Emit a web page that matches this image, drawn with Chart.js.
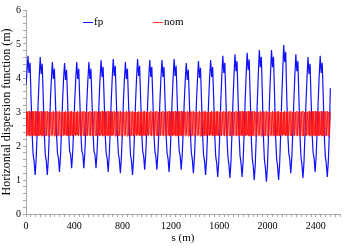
<!doctype html>
<html>
<head>
    <title>Horizontal dispersion function</title>
    <script src="https://cdn.jsdelivr.net/npm/chart.js"></script>
    <style>
        body { margin: 0; background: #fff; }
        #box { width: 353px; height: 250px; }
    </style>
</head>
<body>
    <div id="box"><canvas id="disp"></canvas></div>

    <script>
        // Perturbed dispersion (fp), one row per lattice cell, sampled every 8.4 m
        var fpStep = 8.4;
        var fpCells = [
            [3.8, 4.2, 4.65, 4.15, 4.45, 3.4, 2.4, 1.75, 1.55, 1.15, 1.6, 2.4],
            [3.3, 4.0, 4.62, 4.12, 4.42, 3.4, 2.4, 1.75, 1.55, 1.15, 1.6, 2.4],
            [3.3, 3.95, 4.47, 3.97, 4.27, 3.35, 2.4, 1.8, 1.64, 1.24, 1.69, 2.45],
            [3.3, 3.95, 4.44, 3.94, 4.24, 3.35, 2.45, 1.85, 1.75, 1.35, 1.8, 2.5],
            [3.3, 3.95, 4.47, 3.97, 4.27, 3.35, 2.45, 1.85, 1.75, 1.35, 1.8, 2.5],
            [3.3, 3.95, 4.47, 3.97, 4.27, 3.35, 2.45, 1.85, 1.75, 1.35, 1.8, 2.5],
            [3.3, 4.0, 4.53, 4.03, 4.33, 3.4, 2.4, 1.8, 1.64, 1.24, 1.69, 2.45],
            [3.3, 4.0, 4.56, 4.06, 4.36, 3.4, 2.4, 1.8, 1.6, 1.2, 1.65, 2.4],
            [3.3, 3.95, 4.47, 3.97, 4.27, 3.35, 2.4, 1.75, 1.55, 1.15, 1.6, 2.4],
            [3.3, 4.0, 4.56, 4.06, 4.36, 3.4, 2.45, 1.85, 1.7, 1.3, 1.75, 2.45],
            [3.3, 4.0, 4.53, 4.03, 4.33, 3.4, 2.45, 1.85, 1.7, 1.3, 1.75, 2.45],
            [3.3, 4.0, 4.53, 4.03, 4.33, 3.4, 2.4, 1.8, 1.64, 1.24, 1.69, 2.45],
            [3.3, 4.0, 4.56, 4.06, 4.36, 3.4, 2.45, 1.85, 1.7, 1.3, 1.75, 2.45],
            [3.3, 3.95, 4.44, 3.94, 4.24, 3.35, 2.4, 1.8, 1.6, 1.2, 1.65, 2.4],
            [3.3, 3.95, 4.5, 4.0, 4.3, 3.35, 2.4, 1.75, 1.55, 1.15, 1.6, 2.4],
            [3.3, 4.0, 4.53, 4.03, 4.33, 3.4, 2.35, 1.7, 1.49, 1.09, 1.54, 2.35],
            [3.3, 4.05, 4.65, 4.15, 4.45, 3.45, 2.35, 1.7, 1.46, 1.06, 1.51, 2.35],
            [3.3, 4.05, 4.7, 4.2, 4.5, 3.45, 2.35, 1.7, 1.49, 1.09, 1.54, 2.35],
            [3.3, 4.1, 4.74, 4.24, 4.54, 3.45, 2.3, 1.65, 1.4, 1.0, 1.45, 2.3],
            [3.3, 4.1, 4.82, 4.32, 4.62, 3.5, 2.3, 1.6, 1.35, 0.95, 1.4, 2.3],
            [3.3, 4.1, 4.82, 4.32, 4.62, 3.5, 2.3, 1.65, 1.4, 1.0, 1.45, 2.3],
            [3.3, 4.15, 4.97, 4.47, 4.77, 3.5, 2.4, 1.8, 1.6, 1.2, 1.65, 2.4],
            [3.3, 4.05, 4.7, 4.2, 4.5, 3.45, 2.35, 1.7, 1.46, 1.06, 1.51, 2.35],
            [3.3, 4.0, 4.62, 4.12, 4.42, 3.4, 2.4, 1.8, 1.64, 1.24, 1.69, 2.45],
            [3.3, 4.05, 4.65, 4.15, 4.45, 3.45, 2.35, 1.7, 1.49, 1.09, 1.54, 2.35],
            [3.7]
        ];

        // Nominal dispersion (nom): the lattice is periodic, one cell sampled every 6.3 m
        var nomStep = 6.3;
        var nomCell = [3.02, 2.3, 3.0, 2.32, 3.03, 2.29, 3.0, 2.31, 3.02, 2.3, 3.01, 2.31, 3.03, 2.29, 3.0, 2.32];
        var nomCellCount = 25;
        var nomEnd = [3.02];

        var xTickMajor = 400;
        var yTickMajor = 1;

        var fpData = [];
        fpCells.forEach(function (row) {
            row.forEach(function (v) {
                fpData.push({ x: fpData.length * fpStep, y: v });
            });
        });

        var nomValues = [];
        for (var c = 0; c < nomCellCount; c++) nomValues = nomValues.concat(nomCell);
        nomValues = nomValues.concat(nomEnd);
        var nomData = nomValues.map(function (v, i) { return { x: i * nomStep, y: v }; });

        var fonte = { family: 'Liberation Serif', size: 10 };
        var fonteTitulo = { family: 'Liberation Serif', size: 12 };
        var cinza = '#a8a8a8';

        // legend drawn inside the plot area, like the original
        var legendaInterna = {
            id: 'legendaInterna',
            afterDraw: function (chart) {
                var ctx = chart.ctx;
                var area = chart.chartArea;
                var offsets = [57, 127];
                ctx.save();
                ctx.font = '11px "Liberation Serif"';
                ctx.textBaseline = 'middle';
                chart.data.datasets.forEach(function (ds, i) {
                    var x = area.left + offsets[i];
                    var y = area.top + 12;
                    ctx.strokeStyle = ds.borderColor;
                    ctx.lineWidth = 1;
                    ctx.beginPath();
                    ctx.moveTo(x, y + 0.5);
                    ctx.lineTo(x + 10, y + 0.5);
                    ctx.stroke();
                    ctx.fillStyle = '#000';
                    ctx.fillText(ds.label, x + 11, y);
                });
                ctx.restore();
            }
        };

        var grafico = new Chart(document.getElementById('disp').getContext('2d'), {
            type: 'line',
            data: {
                datasets: [{
                    label: 'fp',
                    data: fpData,
                    borderColor: '#1010ff',
                    borderWidth: 1.2,
                    order: 1
                }, {
                    label: 'nom',
                    data: nomData,
                    borderColor: 'rgba(255, 20, 20, 0.9)',
                    borderWidth: 1,
                    order: 0
                }]
            },
            options: {
                responsive: true,
                maintainAspectRatio: false,
                animation: false,
                elements: { point: { radius: 0 }, line: { tension: 0 } },
                layout: { padding: { top: 10, right: 13, left: 0, bottom: 0 } },
                plugins: { legend: { display: false }, tooltip: { enabled: false } },
                scales: {
                    x: {
                        type: 'linear',
                        min: 0,
                        max: 2600,
                        border: { color: cinza },
                        grid: { drawOnChartArea: false, color: cinza, tickLength: 3 },
                        ticks: {
                            stepSize: 40,
                            autoSkip: false,
                            maxRotation: 0,
                            color: '#000',
                            font: fonte,
                            padding: 3,
                            callback: function (v) { return v % xTickMajor === 0 ? v : ''; }
                        },
                        title: { display: true, text: 's (m)', color: '#000', font: { family: 'Liberation Serif', size: 11 }, padding: { top: 0, bottom: 5 } },
                        afterFit: function (s) { s.height = 36; }
                    },
                    y: {
                        min: 0,
                        max: 6,
                        border: { color: cinza },
                        grid: { drawOnChartArea: false, color: cinza, tickLength: 3 },
                        ticks: {
                            stepSize: 0.2,
                            autoSkip: false,
                            color: '#000',
                            font: fonte,
                            padding: 2,
                            callback: function (v) {
                                var r = Math.round(v / yTickMajor) * yTickMajor;
                                return Math.abs(v - r) < 1e-6 ? r : '';
                            }
                        },
                        title: { display: true, text: 'Horizontal dispersion function (m)', color: '#000', font: fonteTitulo, padding: { top: 0, bottom: 0 } },
                        afterFit: function (s) { s.width = 26; }
                    }
                }
            },
            plugins: [legendaInterna]
        });
    </script>
</body>
</html>
